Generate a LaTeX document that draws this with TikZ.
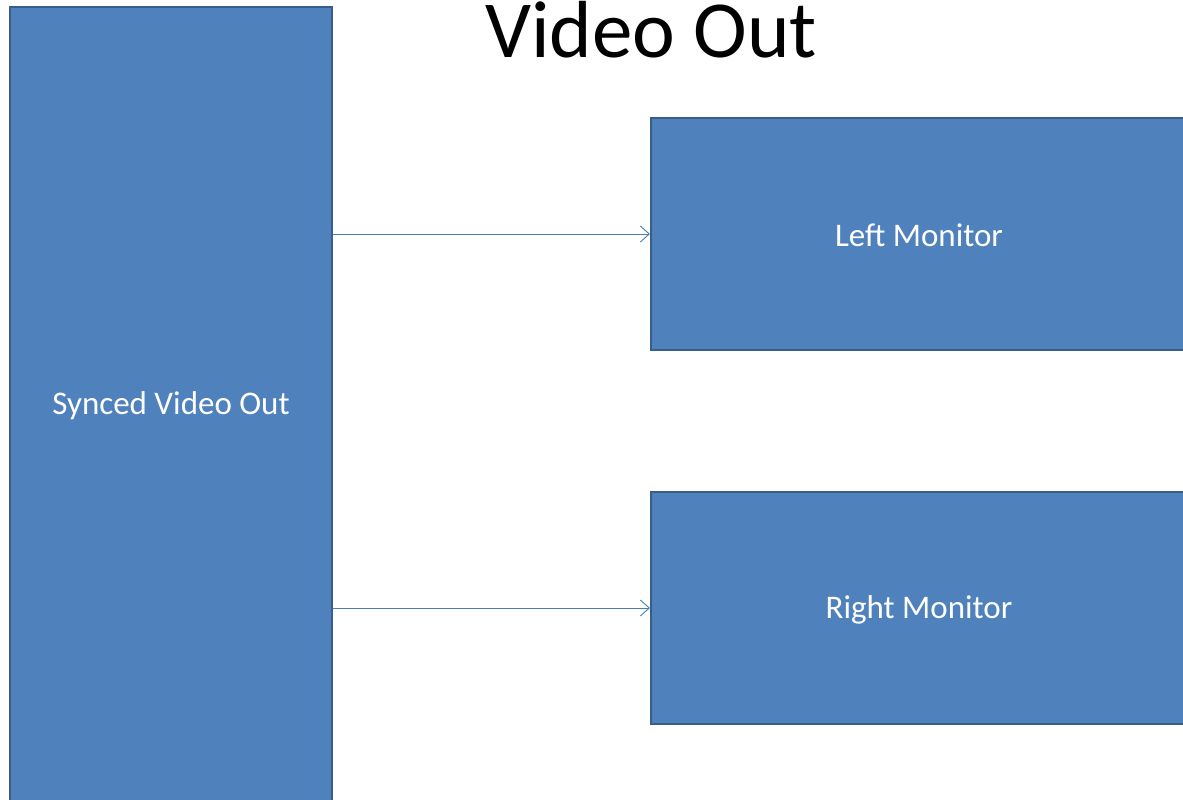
\documentclass[tikz,border=0pt]{standalone}
\usepackage{fontspec}
\setmainfont{Carlito}
\usetikzlibrary{arrows.meta}
\definecolor{boxfill}{HTML}{4F81BD}
\definecolor{boxline}{HTML}{385D8A}
\definecolor{arrowcol}{HTML}{4A7EBB}
\tikzset{
  block/.style={draw=boxline, line width=2.2pt, fill=boxfill, rectangle, inner sep=0pt,
    text=white, font=\fontsize{33}{38}\selectfont},
  label/.style={text=white, font=\fontsize{33}{38}\selectfont},
  conn/.style={draw=arrowcol, line width=0.9pt, -{Straight Barb[length=9pt,width=16pt,line width=0.9pt]}}
}
\begin{document}
\begin{tikzpicture}[x=1pt,y=-1pt]
\useasboundingbox (0,0) rectangle (1183,800);
\node[block, minimum width=322pt, minimum height=796pt] (src) at (171,405) {};
\node[label] (srctxt) at (171,406) {Synced Video Out};
\node[block, minimum width=538pt, minimum height=232pt, anchor=west] (left) at (650,234) {};
\node[label] (lefttxt) at (919,235) {Left Monitor};
\node[block, minimum width=538pt, minimum height=232pt, anchor=west] (right) at (650,608) {};
\node[label] (righttxt) at (919,610) {Right Monitor};
\node[font=\fontsize{81}{86}\selectfont, anchor=base] (title) at (651,58) {Video Out};
\draw[conn] (src.east |- left.west) -- (left.west);
\draw[conn] (src.east |- right.west) -- (right.west);
\end{tikzpicture}
\end{document}
